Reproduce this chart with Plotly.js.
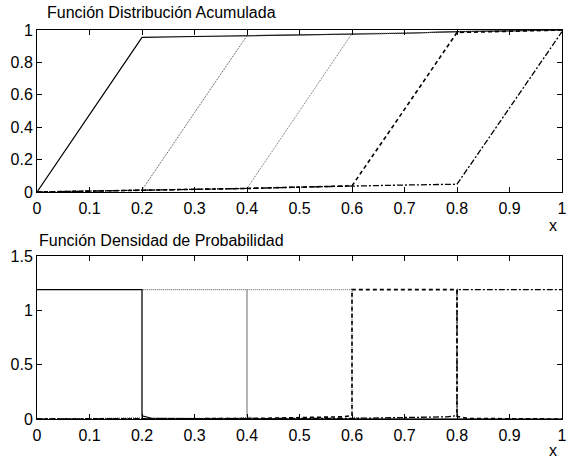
<!DOCTYPE html>
<html>
<head>
<meta charset="utf-8">
<script src="https://cdn.plot.ly/plotly-3.0.1.min.js"></script>
<style>html,body{margin:0;padding:0;background:#fff;}#chart{width:568px;height:459px;}</style>
</head>
<body>
<div id="chart"></div>
<script>
// Top: cumulative distribution functions
const cdfX = [0, 0.1, 0.2, 0.3, 0.4, 0.5, 0.6, 0.7, 0.8, 0.9, 1.0];
const cdf1 = [0, 0.475, 0.955, 0.96, 0.965, 0.97, 0.975, 0.98, 0.99, 0.995, 1.0];
const cdf2 = [0, 0.006, 0.012, 0.49, 0.965, 0.97, 0.975, 0.98, 0.99, 0.995, 1.0];
const cdf3 = [0, 0.005, 0.01, 0.016, 0.022, 0.5, 0.978, 0.982, 0.99, 0.995, 1.0];
const cdf4 = [0, 0.005, 0.01, 0.016, 0.022, 0.03, 0.038, 0.51, 0.985, 0.992, 1.0];
const cdf5 = [0, 0.005, 0.01, 0.016, 0.022, 0.03, 0.038, 0.043, 0.048, 0.52, 0.99];

// Bottom: probability density functions
const pdfX1 = [0, 0.2, 0.2, 0.22, 0.4, 0.6, 0.8, 1.0];
const pdf1  = [1.19, 1.19, 0.03, 0.005, 0.002, 0.001, 0.001, 0];
const pdfX2 = [0, 0.18, 0.2, 0.2, 0.4, 0.4, 0.42, 0.6, 0.8, 1.0];
const pdf2  = [0, 0.005, 0.01, 1.19, 1.19, 0.02, 0.005, 0.001, 0.001, 0];
const pdfX3 = [0, 0.2, 0.38, 0.4, 0.4, 0.6, 0.6, 0.62, 0.8, 1.0];
const pdf3  = [0, 0.002, 0.008, 0.015, 1.19, 1.19, 0.02, 0.005, 0.001, 0];
const pdfX4 = [0, 0.2, 0.4, 0.58, 0.6, 0.6, 0.8, 0.8, 0.82, 1.0];
const pdf4  = [0, 0.002, 0.004, 0.02, 0.03, 1.19, 1.19, 0.025, 0.005, 0];
const pdfX5 = [0, 0.2, 0.4, 0.6, 0.78, 0.8, 0.8, 1.0];
const pdf5  = [0, 0.002, 0.004, 0.006, 0.02, 0.03, 1.19, 1.19];

const styles = [
  {dash: 'solid', width: 1.2, color: '#000'},
  {dash: '1px,1px', width: 1, color: '#444'},
  {dash: '1px,1px', width: 1, color: '#666'},
  {dash: '4px,3px', width: 1.6, color: '#000'},
  {dash: '6px,2px,2px,2px', width: 1.3, color: '#000'}
];

const traces = [];
[cdf1, cdf2, cdf3, cdf4, cdf5].forEach((y, i) => {
  traces.push({x: cdfX, y: y, type: 'scatter', mode: 'lines', line: styles[i], xaxis: 'x', yaxis: 'y', showlegend: false, hoverinfo: 'skip'});
});
[[pdfX1, pdf1], [pdfX2, pdf2], [pdfX3, pdf3], [pdfX4, pdf4], [pdfX5, pdf5]].forEach((d, i) => {
  traces.push({x: d[0], y: d[1], type: 'scatter', mode: 'lines', line: styles[i], xaxis: 'x2', yaxis: 'y2', showlegend: false, hoverinfo: 'skip'});
});

const font = {family: 'Liberation Sans, Arial, sans-serif', size: 16, color: '#000'};
const axisCommon = {
  showgrid: false, zeroline: false, showline: true, linecolor: '#000', linewidth: 1,
  mirror: 'ticks', ticks: 'inside', ticklen: 5, tickcolor: '#000', tickwidth: 1,
  tickfont: font, fixedrange: true, ticklabeloverflow: 'allow'
};
const L = 37, R = 6, W = 568 - L - R;

const layout = {
  width: 568, height: 459,
  margin: {l: L, r: R, t: 0, b: 0},
  paper_bgcolor: '#fff', plot_bgcolor: '#fff',
  font: font,
  showlegend: false,
  xaxis: Object.assign({}, axisCommon, {domain: [0, 1], range: [0, 1], dtick: 0.1, tick0: 0, anchor: 'y', ticklabelstandoff: 2}),
  yaxis: Object.assign({}, axisCommon, {domain: [0.5817, 0.9346], range: [0, 1], dtick: 0.2, tick0: 0, anchor: 'x'}),
  xaxis2: Object.assign({}, axisCommon, {domain: [0, 1], range: [0, 1], dtick: 0.1, tick0: 0, anchor: 'y2', ticklabelstandoff: 2}),
  yaxis2: Object.assign({}, axisCommon, {domain: [0.0871, 0.4423], range: [0, 1.5], dtick: 0.5, tick0: 0, anchor: 'x2'}),
  annotations: [
    {text: 'Función Distribución Acumulada', xref: 'paper', yref: 'paper', x: (45 - L) / W, y: 1 - 12 / 459, xanchor: 'left', yanchor: 'middle', showarrow: false, font: font},
    {text: 'Función Densidad de Probabilidad', xref: 'paper', yref: 'paper', x: 0, y: 1 - 241 / 459, xanchor: 'left', yanchor: 'middle', showarrow: false, font: font},
    {text: 'x', xref: 'paper', yref: 'paper', x: (553 - L) / W, y: 1 - 226 / 459, xanchor: 'center', yanchor: 'middle', showarrow: false, font: font},
    {text: 'x', xref: 'paper', yref: 'paper', x: (553 - L) / W, y: 1 - 450 / 459, xanchor: 'center', yanchor: 'middle', showarrow: false, font: font}
  ]
};

Plotly.newPlot('chart', traces, layout, {staticPlot: true, displayModeBar: false});
</script>
</body>
</html>
